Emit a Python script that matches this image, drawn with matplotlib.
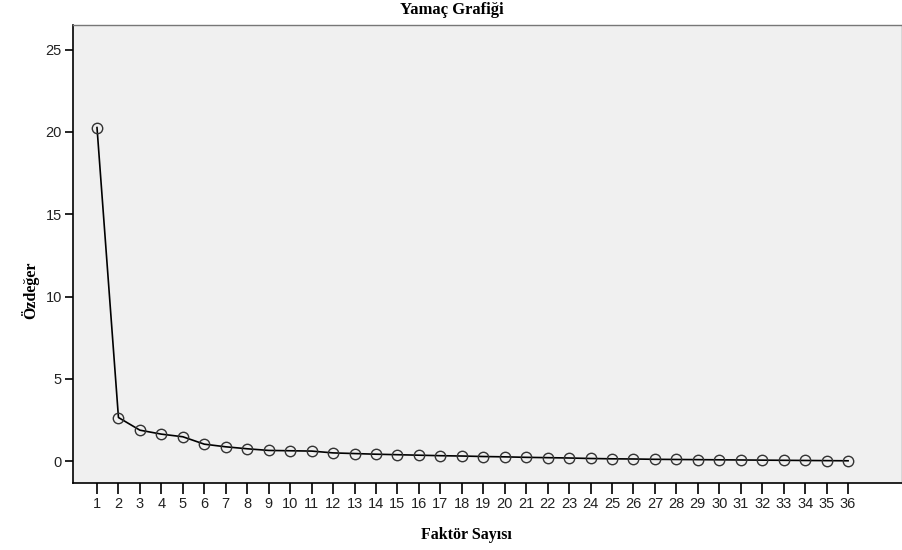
import matplotlib
matplotlib.use("Agg")
import matplotlib.pyplot as plt

# scree plot values
factors = list(range(1, 37))
eigenvalues = [20.27, 2.65, 1.88, 1.64, 1.48, 1.03, 0.87, 0.75, 0.65, 0.63,
               0.61, 0.50, 0.46, 0.42, 0.39, 0.36, 0.33, 0.31, 0.28, 0.26,
               0.23, 0.21, 0.19, 0.16, 0.14, 0.13, 0.11, 0.10, 0.09, 0.08,
               0.07, 0.06, 0.05, 0.04, 0.03, 0.02]
y_ticks = [0, 5, 10, 15, 20, 25]

title = "Yamaç Grafiği"
x_label = "Faktör Sayısı"
y_label = "Özdeğer"

fig = plt.figure(figsize=(9.03, 5.5), dpi=100)
ax = fig.add_axes([0.0808, 0.1218, 0.9178, 0.8327])
ax.set_facecolor("#f0f0f0")

ax.plot(factors, eigenvalues, color="black", linewidth=1.2,
        marker="o", markersize=7.5, markerfacecolor="none",
        markeredgecolor="#333333", markeredgewidth=1.0)

ax.set_xlim(-0.12, 38.5)
ax.set_ylim(-1.33, 26.5)
ax.set_xticks(factors)
ax.set_yticks(y_ticks)

tick_font = {"family": "Liberation Sans", "size": 10.5}
ax.set_xticklabels([str(f) for f in factors], fontdict=tick_font, color="#222222")
ax.set_yticklabels([str(v) for v in y_ticks], fontdict=tick_font, color="#222222")
ax.tick_params(axis="x", direction="out", length=8, width=1.2, pad=2)
ax.tick_params(axis="y", direction="out", length=6, width=1.2, pad=2)

for side in ["left", "bottom"]:
    ax.spines[side].set_color("black")
    ax.spines[side].set_linewidth(1.2)
for side in ["top", "right"]:
    ax.spines[side].set_color("#777777")
    ax.spines[side].set_linewidth(1.0)

label_font = {"family": "Liberation Serif", "weight": "bold", "size": 11.5}
fig.text(0.5, 0.981, title, ha="center", va="center",
         fontdict={**label_font, "size": 12})
fig.text(466 / 903, 1 - 535 / 550, x_label, ha="center", va="center", fontdict=label_font)
fig.text(30 / 903, 1 - 290 / 550, y_label, ha="center", va="center",
         rotation=90, fontdict=label_font)

fig.savefig("out.png", dpi=100)
